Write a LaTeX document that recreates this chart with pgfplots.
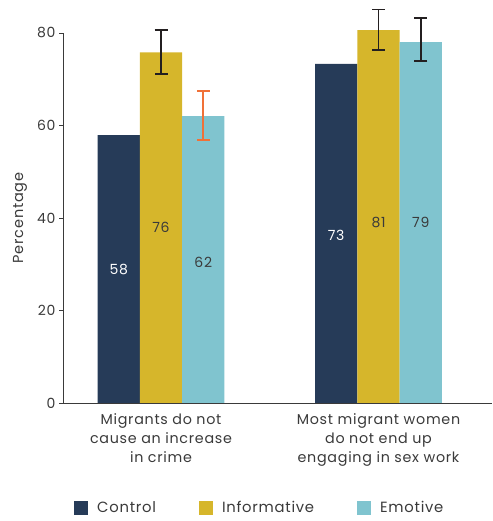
\documentclass[border=0pt]{standalone}
\usepackage{pgfplots}
\pgfplotsset{compat=1.18}
\usepackage{fontspec}
\setmainfont[LetterSpace=5]{Poppins}
\definecolor{cnavy}{HTML}{263B58}
\definecolor{cgold}{HTML}{D6B62B}
\definecolor{cteal}{HTML}{80C4CF}
\definecolor{corange}{HTML}{F07138}
\definecolor{cerr}{HTML}{231F20}
\definecolor{ctext}{HTML}{3A3A3A}
\begin{document}
\begin{tikzpicture}
\useasboundingbox (0,0) rectangle (492pt,521pt);
\begin{axis}[
  at={(63pt,118pt)}, anchor=south west,
  scale only axis, width=429pt, height=370pt,
  xmin=-0.4506, xmax=1.5218, ymin=0, ymax=80,
  clip=false,
  axis x line*=bottom, axis y line*=left,
  axis line style={draw=ctext, line width=0.8pt},
  ytick={0,20,40,60,80},
  xtick={0,1},
  xticklabels={{Migrants do not\\cause an increase\\in crime},{Most migrant women\\do not end up\\engaging in sex work}},
  xticklabel style={align=center, font=\fontsize{14.3}{19}\selectfont, text=ctext, yshift=-3pt},
  yticklabel style={font=\fontsize{14}{16}\selectfont, text=ctext},
  /pgf/number format/assume math mode=true,
  xtick style={draw=none},
  ytick style={draw=ctext, line width=0.8pt},
  tick align=outside, major tick length=4pt,
  ylabel={Percentage},
  ylabel style={at={(axis description cs:-0.1002,0.5)}, anchor=center, font=\fontsize{14.5}{16}\selectfont, text=ctext},
  legend columns=3,
  legend style={at={(axis description cs:0.0256,-0.284)}, anchor=west, draw=none, fill=none, inner sep=0pt,
    font=\fontsize{14.8}{16}\selectfont, text=ctext,
    /tikz/every odd column/.append style={column sep=7pt},
    /tikz/every even column/.append style={column sep=41pt}},
  legend image code/.code={\fill[#1] (0pt,-7pt) rectangle (14pt,7pt);},
]
% bars
\addplot[ybar, bar width=42.3pt, bar shift=0pt, fill=cnavy, draw=none]
  coordinates {(-0.1945,57.9) (0.8055,73.3)};
\addlegendentry{Control}
\addplot[ybar, bar width=42.3pt, bar shift=0pt, fill=cgold, draw=none]
  coordinates {(0,75.8) (1,80.6)};
\addlegendentry{Informative}
\addplot[ybar, bar width=42.3pt, bar shift=0pt, fill=cteal, draw=none]
  coordinates {(0.1945,62.05) (1.1945,78.05)};
\addlegendentry{Emotive}
% error bars
\addplot[draw=none, color=cerr, forget plot,
  error bars/.cd, y dir=both, y explicit,
  error bar style={draw=cerr, line width=1.6pt},
  error mark=|, error mark options={draw=cerr, mark size=6.5pt, line width=1.6pt}]
  coordinates {(0,75.8) += (0,4.8) -= (0,4.7)
               (1,80.6) += (0,4.5) -= (0,4.3)
               (1.1945,78.05) += (0,5.25) -= (0,4.15)};
\addplot[draw=none, color=corange, forget plot,
  error bars/.cd, y dir=both, y explicit,
  error bar style={color=corange, line width=2.2pt},
  error mark=|, error mark options={draw=corange, mark size=6.5pt, line width=1.6pt}]
  coordinates {(0.1945,62.05) += (0,5.35) -= (0,5.15)};
% value labels
\addplot[draw=none, mark=none, forget plot, nodes near coords, point meta=explicit symbolic,
  nodes near coords style={anchor=center, text=white, font=\fontsize{14}{16}\selectfont}]
  coordinates {(-0.1945,28.8)[58] (0.8055,36.3)[73]};
\addplot[draw=none, mark=none, forget plot, nodes near coords, point meta=explicit symbolic,
  nodes near coords style={anchor=center, text=ctext, font=\fontsize{14}{16}\selectfont}]
  coordinates {(0,38)[76] (0.1945,30.5)[62] (1,39)[81] (1.1945,39)[79]};
\end{axis}
\end{tikzpicture}
\end{document}
